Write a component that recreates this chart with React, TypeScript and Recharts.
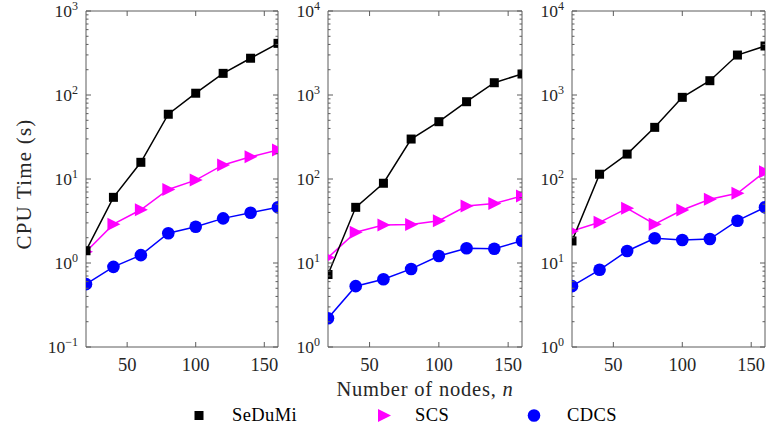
import React from 'react';
import { LineChart, Line, XAxis, YAxis } from 'recharts';

// x values (number of nodes) shared by all three panels
const nodes = [20, 40, 60, 80, 100, 120, 140, 160];
const xTicks = [50, 100, 150];

// panel 1
const sedumi1 = [1.4, 6.05, 15.8, 59, 105, 181, 274, 412];
const scs1 = [1.36, 2.9, 4.3, 7.5, 9.7, 14.7, 18.4, 22.1];
const cdcs1 = [0.56, 0.9, 1.24, 2.26, 2.7, 3.4, 3.97, 4.6];

// panel 2
const sedumi2 = [7.3, 46, 89, 299, 481, 832, 1400, 1778];
const scs2 = [11.6, 23.2, 28.3, 28.8, 31.9, 47.7, 51, 62.8];
const cdcs2 = [2.2, 5.3, 6.4, 8.5, 12.1, 15, 14.8, 18.4];

// panel 3
const sedumi3 = [18.3, 114, 198, 412, 938, 1480, 2990, 3830];
const scs3 = [24, 30.5, 44.8, 29, 42.8, 57.3, 67.6, 122];
const cdcs3 = [5.3, 8.3, 13.9, 19.7, 18.8, 19.3, 31.9, 46];

// decade exponents of each y axis (10^k labels)
const decades1 = [-1, 0, 1, 2, 3];
const decades2 = [0, 1, 2, 3, 4];
const decades3 = [0, 1, 2, 3, 4];

const legendNames = ['SeDuMi', 'SCS', 'CDCS'];

const SERIF = "'Liberation Serif', 'DejaVu Serif', serif";
const AXIS = '#5c5c5c';
const TEXT = '#262626';
const BLACK = '#000000';
const MAGENTA = '#ff00ff';
const BLUE = '#0000ff';

const logTicks = (exps: number[]) => {
  const out: number[] = [];
  exps.forEach((e, i) => {
    const base = Math.pow(10, e);
    out.push(base);
    if (i < exps.length - 1) {
      for (let m = 2; m <= 9; m++) out.push(m * base);
    }
  });
  return out;
};

const isDecade = (v: number) => {
  const lg = Math.log10(v);
  return Math.abs(lg - Math.round(lg)) < 1e-6;
};

const PLOT_TOP = 11;
const PLOT_BOTTOM = 347;
const CHART_H = 380;

const LeftTick = (props: any) => {
  const { x, y, payload } = props;
  const v = payload?.value;
  const major = isDecade(v);
  const exp = Math.round(Math.log10(v));
  return (
    <g>
      <line x1={x} y1={y} x2={x + (major ? 5 : 2.5)} y2={y} stroke={AXIS} strokeWidth={1} />
      {major && (
        <text x={x - 8} y={y + 5.5} textAnchor="end" fontFamily={SERIF} fontSize={17.5} fill={TEXT}>
          10
          <tspan dy={-6.5} fontSize={12}>{exp < 0 ? `\u2212${-exp}` : `${exp}`}</tspan>
        </text>
      )}
    </g>
  );
};

const RightTick = (props: any) => {
  const { x, y, payload } = props;
  const major = isDecade(payload?.value);
  return <line x1={x} y1={y} x2={x - (major ? 5 : 2.5)} y2={y} stroke={AXIS} strokeWidth={1} />;
};

const BottomTick = (props: any) => {
  const { x, y, payload } = props;
  return (
    <g>
      <line x1={x} y1={y} x2={x} y2={y - 5} stroke={AXIS} strokeWidth={1} />
      <text x={x} y={y + 24} textAnchor="middle" fontFamily={SERIF} fontSize={18.5} fill={TEXT}>
        {payload?.value}
      </text>
    </g>
  );
};

const TopTick = (props: any) => {
  const { x, y } = props;
  return <line x1={x} y1={y} x2={x} y2={y + 5} stroke={AXIS} strokeWidth={1} />;
};

const SquareDot = (props: any) => {
  const { cx, cy, index } = props;
  if (cx == null || cy == null) return <g key={`s${index}`} />;
  return <rect key={`s${index}`} x={cx - 4.5} y={cy - 4.5} width={9} height={9} fill={BLACK} />;
};

const TriangleDot = (props: any) => {
  const { cx, cy, index } = props;
  if (cx == null || cy == null) return <g key={`t${index}`} />;
  return (
    <polygon
      key={`t${index}`}
      points={`${cx - 6},${cy - 6.5} ${cx + 7},${cy} ${cx - 6},${cy + 6.5}`}
      fill={MAGENTA}
    />
  );
};

const CircleDot = (props: any) => {
  const { cx, cy, index } = props;
  if (cx == null || cy == null) return <g key={`c${index}`} />;
  return <circle key={`c${index}`} cx={cx} cy={cy} r={6.3} fill={BLUE} />;
};

interface PanelProps {
  left: number;
  width: number;
  plotLeft: number;
  plotRight: number;
  sedumi: number[];
  scs: number[];
  cdcs: number[];
  decades: number[];
}

const Panel: React.FC<PanelProps> = ({ left, width, plotLeft, plotRight, sedumi, scs, cdcs, decades }) => {
  const data = nodes.map((n, i) => ({ n, sedumi: sedumi[i], scs: scs[i], cdcs: cdcs[i] }));
  const yTicks = logTicks(decades);
  const yDomain = [Math.pow(10, decades[0]), Math.pow(10, decades[decades.length - 1])];
  const yAxisWidth = plotLeft - left;
  const rightMargin = left + width - plotRight - 1;

  return (
    <div style={{ position: 'absolute', left, top: 0, width, height: CHART_H }}>
      <LineChart
        width={width}
        height={CHART_H}
        data={data}
        margin={{ top: PLOT_TOP - 1, right: rightMargin, bottom: CHART_H - PLOT_BOTTOM - 30, left: 0 }}
        style={{ overflow: 'visible' }}
      >
        <XAxis
          dataKey="n"
          type="number"
          domain={[20, 160]}
          ticks={xTicks}
          interval={0}
          allowDataOverflow
          height={30}
          tickSize={0}
          tickMargin={0}
          tick={<BottomTick />}
          axisLine={{ stroke: AXIS, strokeWidth: 1 }}
        />
        <XAxis
          xAxisId="top"
          orientation="top"
          dataKey="n"
          type="number"
          domain={[20, 160]}
          ticks={xTicks}
          interval={0}
          allowDataOverflow
          height={1}
          tickSize={0}
          tickMargin={0}
          tick={<TopTick />}
          axisLine={{ stroke: AXIS, strokeWidth: 1 }}
        />
        <YAxis
          type="number"
          scale="log"
          domain={yDomain}
          ticks={yTicks}
          interval={0}
          allowDataOverflow
          width={yAxisWidth}
          tickSize={0}
          tickMargin={0}
          tick={<LeftTick />}
          axisLine={{ stroke: AXIS, strokeWidth: 1 }}
        />
        <YAxis
          yAxisId="right"
          orientation="right"
          type="number"
          scale="log"
          domain={yDomain}
          ticks={yTicks}
          interval={0}
          allowDataOverflow
          width={1}
          tickSize={0}
          tickMargin={0}
          tick={<RightTick />}
          axisLine={{ stroke: AXIS, strokeWidth: 1 }}
        />
        <Line
          dataKey="cdcs"
          stroke={BLUE}
          strokeWidth={1.5}
          dot={CircleDot}
          activeDot={false}
          isAnimationActive={false}
        />
        <Line
          dataKey="scs"
          stroke={MAGENTA}
          strokeWidth={1.5}
          dot={TriangleDot}
          activeDot={false}
          isAnimationActive={false}
        />
        <Line
          dataKey="sedumi"
          stroke={BLACK}
          strokeWidth={1.5}
          dot={SquareDot}
          activeDot={false}
          isAnimationActive={false}
        />
      </LineChart>
    </div>
  );
};

const legendMarks = [
  (cx: number, cy: number) => <rect x={cx - 4.5} y={cy - 4.5} width={9} height={9} fill={BLACK} />,
  (cx: number, cy: number) => (
    <polygon points={`${cx - 6},${cy - 6.5} ${cx + 7},${cy} ${cx - 6},${cy + 6.5}`} fill={MAGENTA} />
  ),
  (cx: number, cy: number) => <circle cx={cx} cy={cy} r={6.3} fill={BLUE} />,
];
const legendMarkX = [199, 384, 534];
const legendTextX = [232, 415, 567];

const App: React.FC = () => {
  return (
    <div style={{ position: 'absolute', left: 0, top: 0, width: 766, height: 430, background: '#ffffff' }}>
      <Panel left={0} width={290} plotLeft={86} plotRight={278} sedumi={sedumi1} scs={scs1} cdcs={cdcs1} decades={decades1} />
      <Panel left={250} width={290} plotLeft={328} plotRight={522} sedumi={sedumi2} scs={scs2} cdcs={cdcs2} decades={decades2} />
      <Panel left={494} width={272} plotLeft={572} plotRight={765} sedumi={sedumi3} scs={scs3} cdcs={cdcs3} decades={decades3} />
      <svg
        width={766}
        height={430}
        style={{ position: 'absolute', left: 0, top: 0, pointerEvents: 'none' }}
      >
        <text
          x={31}
          y={184}
          transform="rotate(-90, 31, 184)"
          textAnchor="middle"
          fontFamily={SERIF}
          fontSize={21}
          letterSpacing={1.2}
          fill={TEXT}
        >
          CPU Time (s)
        </text>
        <text x={425} y={396} textAnchor="middle" fontFamily={SERIF} fontSize={20.5} letterSpacing={0.8} fill={TEXT}>
          Number of nodes, <tspan fontStyle="italic">n</tspan>
        </text>
        {legendNames.map((name, i) => (
          <g key={name}>
            {legendMarks[i](legendMarkX[i], 415.5)}
            <text x={legendTextX[i]} y={420.5} fontFamily={SERIF} fontSize={18.5} letterSpacing={0.4} fill={BLACK}>
              {name}
            </text>
          </g>
        ))}
      </svg>
    </div>
  );
};

export default App;
